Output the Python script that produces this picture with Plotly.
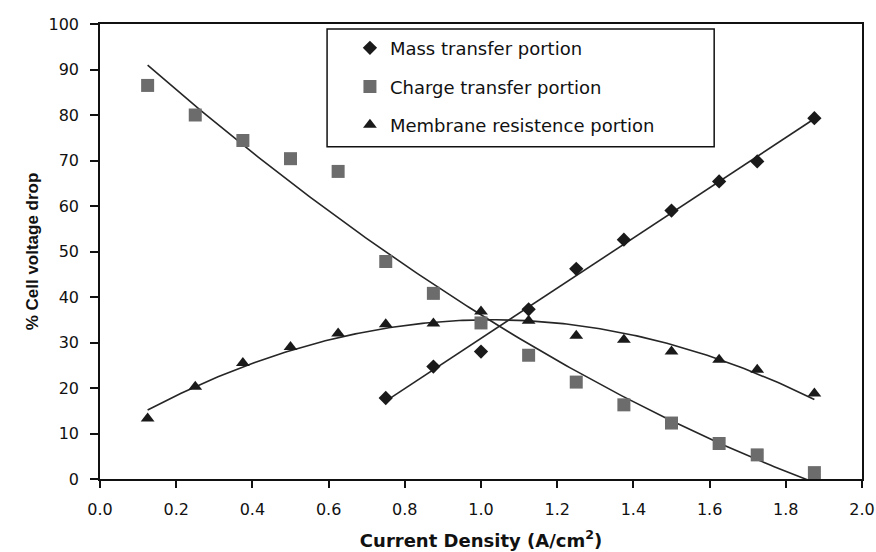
import numpy as np
import plotly.graph_objects as go

# ---- data ----
current_density = [0.125, 0.25, 0.375, 0.5, 0.625, 0.75, 0.875, 1.0, 1.125, 1.25,
                   1.375, 1.5, 1.625, 1.725, 1.875]
charge_transfer = [86.5, 80.0, 74.4, 70.4, 67.6, 47.8, 40.8, 34.3, 27.2, 21.3,
                   16.3, 12.3, 7.8, 5.3, 1.4]
membrane_resistance = [13.3, 20.3, 25.5, 29.0, 32.0, 34.0, 34.2, 36.8, 34.8, 31.5,
                       30.6, 28.0, 26.2, 24.0, 18.8]
mass_x = [0.75, 0.875, 1.0, 1.125, 1.25, 1.375, 1.5, 1.625, 1.725, 1.875]
mass_transfer = [17.8, 24.7, 28.0, 37.3, 46.2, 52.6, 59.0, 65.4, 69.8, 79.3]

x_ticks = [0.0, 0.2, 0.4, 0.6, 0.8, 1.0, 1.2, 1.4, 1.6, 1.8, 2.0]
y_ticks = [0, 10, 20, 30, 40, 50, 60, 70, 80, 90, 100]

FONT = "DejaVu Sans, Liberation Sans, Arial, sans-serif"
LINE = "#262626"
INK = "#111111"


def trend(xs, ys, deg):
    xs = np.asarray(xs, float)
    c = np.polyfit(xs, np.asarray(ys, float), deg)
    xx = np.linspace(xs.min(), xs.max(), 200)
    return xx, np.polyval(c, xx)


fig = go.Figure()

# trend lines (Excel-style fits of each series)
for xs, ys, deg in [(mass_x, mass_transfer, 1),
                    (current_density, charge_transfer, 2),
                    (current_density, membrane_resistance, 2)]:
    tx, ty = trend(xs, ys, deg)
    fig.add_trace(go.Scatter(x=tx, y=ty, mode="lines", showlegend=False,
                             line=dict(color=LINE, width=1.6), hoverinfo="skip"))

fig.add_trace(go.Scatter(x=mass_x, y=mass_transfer, mode="markers",
                         name="Mass transfer portion", legend="legend",
                         marker=dict(symbol="diamond", size=11, color="#1a1a1a")))
fig.add_trace(go.Scatter(x=current_density, y=charge_transfer, mode="markers",
                         name="Charge transfer portion", legend="legend2",
                         marker=dict(symbol="square", size=13, color="#6c6c6c")))
fig.add_trace(go.Scatter(x=current_density, y=membrane_resistance, mode="markers",
                         name="Membrane resistence portion", legend="legend3",
                         marker=dict(symbol="triangle-up", size=12, color="#1a1a1a")))

leg_common = dict(xanchor="left", yanchor="middle", bgcolor="rgba(0,0,0,0)",
                  font=dict(family=FONT, size=18, color=INK),
                  itemwidth=30, tracegroupgap=0)

fig.update_layout(
    width=876, height=552,
    margin=dict(l=100, r=14, t=24, b=73, autoexpand=False),
    paper_bgcolor="white", plot_bgcolor="white",
    font=dict(family=FONT, size=16, color=INK),
    legend=dict(x=0.328, y=0.947, **leg_common),
    legend2=dict(x=0.328, y=0.862, **leg_common),
    legend3=dict(x=0.328, y=0.778, **leg_common),
    shapes=[dict(type="rect", xref="paper", yref="paper",
                 x0=0.298, x1=0.806, y0=0.730, y1=0.989,
                 line=dict(color=INK, width=1.5), fillcolor="rgba(0,0,0,0)")],
    xaxis=dict(range=[0, 2], tickvals=x_ticks, tickformat=".1f", automargin=False,
               ticks="outside", ticklen=7, tickwidth=1.5, tickcolor=INK,
               ticklabelstandoff=8,
               showline=True, linecolor=INK, linewidth=1.6, mirror=True,
               showgrid=False, zeroline=False,
               tickfont=dict(family=FONT, size=16, color=INK),
               title=dict(text="<b>Current Density (A/cm<sup>2</sup>)</b>",
                          font=dict(family=FONT, size=18, color=INK), standoff=16)),
    yaxis=dict(range=[0, 100], tickvals=y_ticks, automargin=False,
               ticks="outside", ticklen=8, tickwidth=1.5, tickcolor=INK,
               ticklabelstandoff=8,
               showline=True, linecolor=INK, linewidth=1.6, mirror=True,
               showgrid=False, zeroline=False,
               tickfont=dict(family=FONT, size=16, color=INK),
               title=dict(text="<b>% Cell voltage drop</b>",
                          font=dict(family="Liberation Sans, Arial, sans-serif",
                                    size=17, color=INK), standoff=6)),
)

fig.write_html("out.html", config={"displayModeBar": False},
               post_script="document.body.style.margin='0';document.body.style.padding='0';")
